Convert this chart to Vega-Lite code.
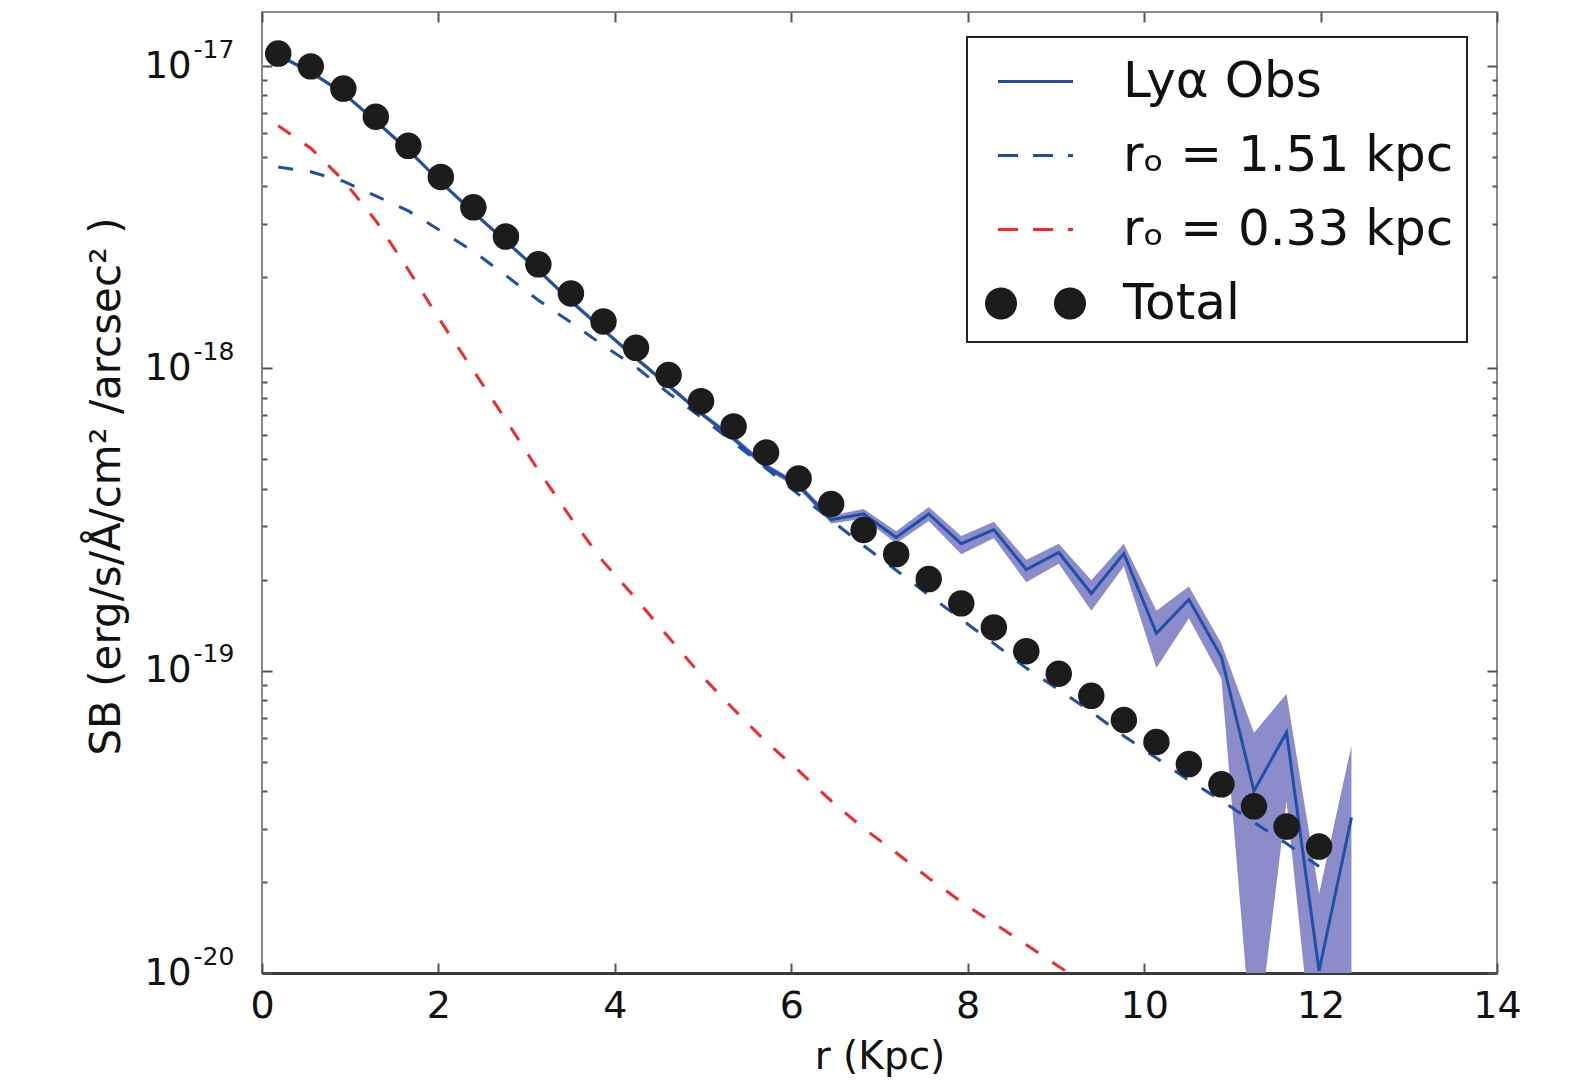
{
  "$schema": "https://vega.github.io/schema/vega-lite/v6.json",
  "width": 1235,
  "height": 961,
  "autosize": "none",
  "padding": {"left": 262, "top": 12, "right": 78, "bottom": 118},
  "background": "white",
  "config": {
    "font": "DejaVu Sans",
    "view": {"stroke": "#8a8a8a", "strokeWidth": 2},
    "axis": {"grid": false, "tickColor": "#555555", "tickWidth": 2, "domain": false, "labelColor": "#111111", "titleColor": "#111111", "titleFontWeight": "normal", "labelFont": "DejaVu Sans", "titleFont": "DejaVu Sans"},
    "legend": {"orient": "none", "legendX": 705, "legendY": 25, "labelFontSize": 50, "labelFont": "DejaVu Sans", "labelColor": "#111111", "symbolSize": 3600, "symbolStrokeWidth": 3, "symbolType": "stroke", "labelOffset": 56, "padding": 13, "symbolOffset": 24, "rowPadding": 17, "strokeColor": "#222222", "fillColor": "white", "labelLimit": 700}
  },
  "datasets": {
    "obs": [
      {"r": 0.184, "sb": 1.087e-17, "lo": 1.071e-17, "hi": 1.103e-17, "series": "Lyα Obs"},
      {"r": 0.553, "sb": 9.55e-18, "lo": 9.41e-18, "hi": 9.69e-18, "series": "Lyα Obs"},
      {"r": 0.922, "sb": 8.14e-18, "lo": 8.02e-18, "hi": 8.26e-18, "series": "Lyα Obs"},
      {"r": 1.29, "sb": 6.57e-18, "lo": 6.47e-18, "hi": 6.67e-18, "series": "Lyα Obs"},
      {"r": 1.659, "sb": 5.27e-18, "lo": 5.19e-18, "hi": 5.35e-18, "series": "Lyα Obs"},
      {"r": 2.027, "sb": 4.13e-18, "lo": 4.07e-18, "hi": 4.19e-18, "series": "Lyα Obs"},
      {"r": 2.396, "sb": 3.28e-18, "lo": 3.23e-18, "hi": 3.33e-18, "series": "Lyα Obs"},
      {"r": 2.765, "sb": 2.63e-18, "lo": 2.59e-18, "hi": 2.67e-18, "series": "Lyα Obs"},
      {"r": 3.133, "sb": 2.11e-18, "lo": 2.08e-18, "hi": 2.14e-18, "series": "Lyα Obs"},
      {"r": 3.502, "sb": 1.67e-18, "lo": 1.64e-18, "hi": 1.70e-18, "series": "Lyα Obs"},
      {"r": 3.871, "sb": 1.34e-18, "lo": 1.32e-18, "hi": 1.36e-18, "series": "Lyα Obs"},
      {"r": 4.24, "sb": 1.08e-18, "lo": 1.06e-18, "hi": 1.10e-18, "series": "Lyα Obs"},
      {"r": 4.609, "sb": 8.78e-19, "lo": 8.63e-19, "hi": 8.93e-19, "series": "Lyα Obs"},
      {"r": 4.977, "sb": 7.10e-19, "lo": 6.97e-19, "hi": 7.23e-19, "series": "Lyα Obs"},
      {"r": 5.346, "sb": 5.86e-19, "lo": 5.73e-19, "hi": 6.00e-19, "series": "Lyα Obs"},
      {"r": 5.714, "sb": 4.74e-19, "lo": 4.63e-19, "hi": 4.85e-19, "series": "Lyα Obs"},
      {"r": 6.083, "sb": 4.10e-19, "lo": 4.00e-19, "hi": 4.19e-19, "series": "Lyα Obs"},
      {"r": 6.452, "sb": 3.16e-19, "lo": 3.07e-19, "hi": 3.26e-19, "series": "Lyα Obs"},
      {"r": 6.82, "sb": 3.30e-19, "lo": 3.18e-19, "hi": 3.43e-19, "series": "Lyα Obs"},
      {"r": 7.189, "sb": 2.76e-19, "lo": 2.64e-19, "hi": 2.89e-19, "series": "Lyα Obs"},
      {"r": 7.558, "sb": 3.30e-19, "lo": 3.13e-19, "hi": 3.48e-19, "series": "Lyα Obs"},
      {"r": 7.927, "sb": 2.63e-19, "lo": 2.43e-19, "hi": 2.79e-19, "series": "Lyα Obs"},
      {"r": 8.296, "sb": 2.93e-19, "lo": 2.74e-19, "hi": 3.11e-19, "series": "Lyα Obs"},
      {"r": 8.664, "sb": 2.16e-19, "lo": 1.96e-19, "hi": 2.33e-19, "series": "Lyα Obs"},
      {"r": 9.032, "sb": 2.46e-19, "lo": 2.26e-19, "hi": 2.63e-19, "series": "Lyα Obs"},
      {"r": 9.401, "sb": 1.80e-19, "lo": 1.58e-19, "hi": 1.99e-19, "series": "Lyα Obs"},
      {"r": 9.77, "sb": 2.44e-19, "lo": 2.21e-19, "hi": 2.63e-19, "series": "Lyα Obs"},
      {"r": 10.139, "sb": 1.33e-19, "lo": 1.02e-19, "hi": 1.58e-19, "series": "Lyα Obs"},
      {"r": 10.507, "sb": 1.72e-19, "lo": 1.49e-19, "hi": 1.90e-19, "series": "Lyα Obs"},
      {"r": 10.876, "sb": 1.11e-19, "lo": 9.43e-20, "hi": 1.23e-19, "series": "Lyα Obs"},
      {"r": 11.245, "sb": 4.00e-20, "lo": 4.8e-21, "hi": 6.23e-20, "series": "Lyα Obs"},
      {"r": 11.614, "sb": 6.25e-20, "lo": 3.71e-20, "hi": 8.39e-20, "series": "Lyα Obs"},
      {"r": 11.983, "sb": 1.015e-20, "lo": 3.4e-21, "hi": 1.83e-20, "series": "Lyα Obs"},
      {"r": 12.35, "sb": 3.27e-20, "lo": 1.0e-21, "hi": 5.65e-20, "series": "Lyα Obs"}
    ],
    "m151": [
      {"r": 0.184, "sb": 4.64e-18, "series": "rₒ = 1.51 kpc"},
      {"r": 0.553, "sb": 4.47e-18, "series": "rₒ = 1.51 kpc"},
      {"r": 0.922, "sb": 4.16e-18, "series": "rₒ = 1.51 kpc"},
      {"r": 1.29, "sb": 3.72e-18, "series": "rₒ = 1.51 kpc"},
      {"r": 1.659, "sb": 3.32e-18, "series": "rₒ = 1.51 kpc"},
      {"r": 2.027, "sb": 2.85e-18, "series": "rₒ = 1.51 kpc"},
      {"r": 2.396, "sb": 2.44e-18, "series": "rₒ = 1.51 kpc"},
      {"r": 2.765, "sb": 2.03e-18, "series": "rₒ = 1.51 kpc"},
      {"r": 3.133, "sb": 1.68e-18, "series": "rₒ = 1.51 kpc"},
      {"r": 3.502, "sb": 1.42e-18, "series": "rₒ = 1.51 kpc"},
      {"r": 3.871, "sb": 1.19e-18, "series": "rₒ = 1.51 kpc"},
      {"r": 4.24, "sb": 1.01e-18, "series": "rₒ = 1.51 kpc"},
      {"r": 4.609, "sb": 8.28e-19, "series": "rₒ = 1.51 kpc"},
      {"r": 4.977, "sb": 6.90e-19, "series": "rₒ = 1.51 kpc"},
      {"r": 5.346, "sb": 5.69e-19, "series": "rₒ = 1.51 kpc"},
      {"r": 5.714, "sb": 4.67e-19, "series": "rₒ = 1.51 kpc"},
      {"r": 6.083, "sb": 3.83e-19, "series": "rₒ = 1.51 kpc"},
      {"r": 6.452, "sb": 3.15e-19, "series": "rₒ = 1.51 kpc"},
      {"r": 6.82, "sb": 2.59e-19, "series": "rₒ = 1.51 kpc"},
      {"r": 7.189, "sb": 2.15e-19, "series": "rₒ = 1.51 kpc"},
      {"r": 7.558, "sb": 1.78e-19, "series": "rₒ = 1.51 kpc"},
      {"r": 7.927, "sb": 1.48e-19, "series": "rₒ = 1.51 kpc"},
      {"r": 8.296, "sb": 1.23e-19, "series": "rₒ = 1.51 kpc"},
      {"r": 8.664, "sb": 1.02e-19, "series": "rₒ = 1.51 kpc"},
      {"r": 9.032, "sb": 8.65e-20, "series": "rₒ = 1.51 kpc"},
      {"r": 9.401, "sb": 7.31e-20, "series": "rₒ = 1.51 kpc"},
      {"r": 9.77, "sb": 6.08e-20, "series": "rₒ = 1.51 kpc"},
      {"r": 10.139, "sb": 5.14e-20, "series": "rₒ = 1.51 kpc"},
      {"r": 10.507, "sb": 4.34e-20, "series": "rₒ = 1.51 kpc"},
      {"r": 10.876, "sb": 3.72e-20, "series": "rₒ = 1.51 kpc"},
      {"r": 11.245, "sb": 3.15e-20, "series": "rₒ = 1.51 kpc"},
      {"r": 11.614, "sb": 2.68e-20, "series": "rₒ = 1.51 kpc"},
      {"r": 11.983, "sb": 2.25e-20, "series": "rₒ = 1.51 kpc"}
    ],
    "m033": [
      {"r": 0.184, "sb": 6.35e-18, "series": "rₒ = 0.33 kpc"},
      {"r": 0.553, "sb": 5.35e-18, "series": "rₒ = 0.33 kpc"},
      {"r": 0.922, "sb": 4.19e-18, "series": "rₒ = 0.33 kpc"},
      {"r": 1.29, "sb": 3.08e-18, "series": "rₒ = 0.33 kpc"},
      {"r": 1.659, "sb": 2.12e-18, "series": "rₒ = 0.33 kpc"},
      {"r": 2.027, "sb": 1.43e-18, "series": "rₒ = 0.33 kpc"},
      {"r": 2.396, "sb": 9.85e-19, "series": "rₒ = 0.33 kpc"},
      {"r": 2.765, "sb": 6.75e-19, "series": "rₒ = 0.33 kpc"},
      {"r": 3.133, "sb": 4.60e-19, "series": "rₒ = 0.33 kpc"},
      {"r": 3.502, "sb": 3.20e-19, "series": "rₒ = 0.33 kpc"},
      {"r": 3.871, "sb": 2.29e-19, "series": "rₒ = 0.33 kpc"},
      {"r": 4.24, "sb": 1.73e-19, "series": "rₒ = 0.33 kpc"},
      {"r": 4.609, "sb": 1.29e-19, "series": "rₒ = 0.33 kpc"},
      {"r": 4.977, "sb": 9.67e-20, "series": "rₒ = 0.33 kpc"},
      {"r": 5.346, "sb": 7.46e-20, "series": "rₒ = 0.33 kpc"},
      {"r": 5.714, "sb": 5.82e-20, "series": "rₒ = 0.33 kpc"},
      {"r": 6.083, "sb": 4.67e-20, "series": "rₒ = 0.33 kpc"},
      {"r": 6.452, "sb": 3.71e-20, "series": "rₒ = 0.33 kpc"},
      {"r": 6.82, "sb": 3.01e-20, "series": "rₒ = 0.33 kpc"},
      {"r": 7.189, "sb": 2.50e-20, "series": "rₒ = 0.33 kpc"},
      {"r": 7.558, "sb": 2.06e-20, "series": "rₒ = 0.33 kpc"},
      {"r": 7.927, "sb": 1.72e-20, "series": "rₒ = 0.33 kpc"},
      {"r": 8.296, "sb": 1.46e-20, "series": "rₒ = 0.33 kpc"},
      {"r": 8.664, "sb": 1.24e-20, "series": "rₒ = 0.33 kpc"},
      {"r": 9.032, "sb": 1.05e-20, "series": "rₒ = 0.33 kpc"},
      {"r": 9.401, "sb": 8.99e-21, "series": "rₒ = 0.33 kpc"}
    ],
    "total": [
      {"r": 0.184, "sb": 1.10e-17, "series": "Total"},
      {"r": 0.553, "sb": 9.98e-18, "series": "Total"},
      {"r": 0.922, "sb": 8.43e-18, "series": "Total"},
      {"r": 1.29, "sb": 6.80e-18, "series": "Total"},
      {"r": 1.659, "sb": 5.45e-18, "series": "Total"},
      {"r": 2.027, "sb": 4.30e-18, "series": "Total"},
      {"r": 2.396, "sb": 3.41e-18, "series": "Total"},
      {"r": 2.765, "sb": 2.73e-18, "series": "Total"},
      {"r": 3.133, "sb": 2.21e-18, "series": "Total"},
      {"r": 3.502, "sb": 1.77e-18, "series": "Total"},
      {"r": 3.871, "sb": 1.43e-18, "series": "Total"},
      {"r": 4.24, "sb": 1.17e-18, "series": "Total"},
      {"r": 4.609, "sb": 9.51e-19, "series": "Total"},
      {"r": 4.977, "sb": 7.79e-19, "series": "Total"},
      {"r": 5.346, "sb": 6.43e-19, "series": "Total"},
      {"r": 5.714, "sb": 5.27e-19, "series": "Total"},
      {"r": 6.083, "sb": 4.32e-19, "series": "Total"},
      {"r": 6.452, "sb": 3.56e-19, "series": "Total"},
      {"r": 6.82, "sb": 2.92e-19, "series": "Total"},
      {"r": 7.189, "sb": 2.43e-19, "series": "Total"},
      {"r": 7.558, "sb": 2.01e-19, "series": "Total"},
      {"r": 7.927, "sb": 1.67e-19, "series": "Total"},
      {"r": 8.296, "sb": 1.39e-19, "series": "Total"},
      {"r": 8.664, "sb": 1.16e-19, "series": "Total"},
      {"r": 9.032, "sb": 9.77e-20, "series": "Total"},
      {"r": 9.401, "sb": 8.26e-20, "series": "Total"},
      {"r": 9.77, "sb": 6.87e-20, "series": "Total"},
      {"r": 10.139, "sb": 5.81e-20, "series": "Total"},
      {"r": 10.507, "sb": 4.91e-20, "series": "Total"},
      {"r": 10.876, "sb": 4.21e-20, "series": "Total"},
      {"r": 11.245, "sb": 3.56e-20, "series": "Total"},
      {"r": 11.614, "sb": 3.05e-20, "series": "Total"},
      {"r": 11.983, "sb": 2.62e-20, "series": "Total"}
    ]
  },
  "layer": [
    {
      "data": {"name": "obs"},
      "mark": {"type": "area", "color": "#8c8ccb", "opacity": 1, "clip": true},
      "encoding": {
        "x": {"field": "r", "type": "quantitative", "scale": {"domain": [0, 14], "nice": false, "zero": false},
          "axis": {"orient": "bottom", "values": [0, 2, 4, 6, 8, 10, 12, 14], "tickSize": -10, "labelPadding": 24, "labelFontSize": 38, "labelFlush": false, "title": "r (Kpc)", "titleFontSize": 39, "titleY": 95, "titleBaseline": "alphabetic", "domain": true, "domainColor": "#3a3a3a", "domainWidth": 3}},
        "y": {"field": "lo", "type": "quantitative", "scale": {"type": "log", "domain": [1e-20, 1.51e-17], "nice": false},
          "axis": {"orient": "left", "values": [1e-20, 1e-19, 1e-18, 1e-17], "tickSize": -10, "labelPadding": 81, "labelFontSize": 37,
            "labelExpr": "'10'",
            "title": "SB (erg/s/Å/cm² /arcsec² )", "titleFontSize": 42, "titleX": -143, "titleY": 474, "titleAngle": -90, "titleBaseline": "alphabetic", "titleAlign": "center"}},
        "y2": {"field": "hi"}
      }
    },
    {
      "data": {"name": "obs"},
      "mark": {"type": "line", "strokeWidth": 3, "clip": true},
      "encoding": {
        "x": {"field": "r", "type": "quantitative", "axis": null},
        "y": {"field": "sb", "type": "quantitative", "axis": null},
        "color": {"field": "series", "type": "nominal",
          "scale": {"domain": ["Lyα Obs", "rₒ = 1.51 kpc", "rₒ = 0.33 kpc", "Total"], "range": ["#1f50a6", "#1f50a6", "#f42a2a", "#1c1c1c"]},
          "legend": {"title": null,
            "encoding": {
              "legend": {"strokeWidth": {"value": 2}},
              "symbols": {
              "shape": {"value": {"expr": "datum.value === 'Total' ? 'M-1.633,0A0.483,0.483,0,1,0,-0.667,0A0.483,0.483,0,1,0,-1.633,0ZM0.667,0A0.483,0.483,0,1,0,1.633,0A0.483,0.483,0,1,0,0.667,0Z' : 'M-1.25,0L1.25,0'"}},
              "strokeDash": {"value": {"expr": "(datum.value === 'Lyα Obs' || datum.value === 'Total') ? [1, 0] : [20, 15]"}},
              "fill": {"value": {"expr": "datum.value === 'Total' ? '#1c1c1c' : 'transparent'"}},
              "stroke": {"value": {"expr": "datum.value === 'Total' ? 'transparent' : (datum.value === 'rₒ = 0.33 kpc' ? '#f42a2a' : '#1f50a6')"}},
              "strokeWidth": {"value": 3},
              "opacity": {"value": 1}
            }}}}
      }
    },
    {
      "data": {"name": "m151"},
      "mark": {"type": "line", "strokeWidth": 3, "strokeDash": [15, 17], "clip": true},
      "encoding": {
        "x": {"field": "r", "type": "quantitative", "axis": null},
        "y": {"field": "sb", "type": "quantitative", "axis": null},
        "color": {"field": "series", "type": "nominal"}
      }
    },
    {
      "data": {"name": "m033"},
      "mark": {"type": "line", "strokeWidth": 3, "strokeDash": [15, 17], "clip": true},
      "encoding": {
        "x": {"field": "r", "type": "quantitative", "axis": null},
        "y": {"field": "sb", "type": "quantitative", "axis": null},
        "color": {"field": "series", "type": "nominal"}
      }
    },
    {
      "data": {"name": "total"},
      "mark": {"type": "point", "filled": true, "size": 700, "opacity": 1, "clip": true},
      "encoding": {
        "x": {"field": "r", "type": "quantitative", "axis": null},
        "y": {"field": "sb", "type": "quantitative", "axis": null},
        "color": {"field": "series", "type": "nominal"}
      }
    },
    {
      "data": {"name": "total"},
      "mark": {"type": "point", "opacity": 0},
      "encoding": {
        "x": {"field": "r", "type": "quantitative", "axis": {"orient": "top", "values": [0, 2, 4, 6, 8, 10, 12, 14], "tickSize": -10, "labels": false, "title": null}},
        "y": {"field": "sb", "type": "quantitative", "axis": {"orient": "left", "values": [2e-20, 3e-20, 4e-20, 5e-20, 6e-20, 7e-20, 8e-20, 9e-20, 2e-19, 3e-19, 4e-19, 5e-19, 6e-19, 7e-19, 8e-19, 9e-19, 2e-18, 3e-18, 4e-18, 5e-18, 6e-18, 7e-18, 8e-18, 9e-18], "tickSize": -5, "labels": false, "title": null}}
      }
    },
    {
      "data": {"name": "total"},
      "mark": {"type": "point", "opacity": 0},
      "encoding": {
        "x": {"field": "r", "type": "quantitative", "axis": null},
        "y": {"field": "sb", "type": "quantitative", "axis": {"orient": "right", "values": [1e-20, 1e-19, 1e-18, 1e-17], "tickSize": -10, "labels": false, "title": null}}
      }
    },
    {
      "data": {"name": "total"},
      "mark": {"type": "point", "opacity": 0},
      "encoding": {
        "x": {"field": "r", "type": "quantitative", "axis": null},
        "y": {"field": "sb", "type": "quantitative", "axis": {"orient": "right", "values": [2e-20, 3e-20, 4e-20, 5e-20, 6e-20, 7e-20, 8e-20, 9e-20, 2e-19, 3e-19, 4e-19, 5e-19, 6e-19, 7e-19, 8e-19, 9e-19, 2e-18, 3e-18, 4e-18, 5e-18, 6e-18, 7e-18, 8e-18, 9e-18], "tickSize": -5, "labels": false, "title": null}}
      }
    },
    {
      "data": {"name": "total"},
      "mark": {"type": "point", "opacity": 0},
      "encoding": {
        "x": {"field": "r", "type": "quantitative", "axis": null},
        "y": {"field": "sb", "type": "quantitative", "axis": {"orient": "left", "values": [1e-20, 1e-19, 1e-18, 1e-17], "ticks": false, "domain": false, "labelPadding": 69, "labelAlign": "left", "labelFontSize": 25, "labelOffset": -17,
          "labelExpr": "datum.value < 5e-20 ? '-20' : datum.value < 5e-19 ? '-19' : datum.value < 5e-18 ? '-18' : '-17'", "title": null}}
      }
    }
  ],
  "resolve": {"axis": {"x": "independent", "y": "independent"}}
}
